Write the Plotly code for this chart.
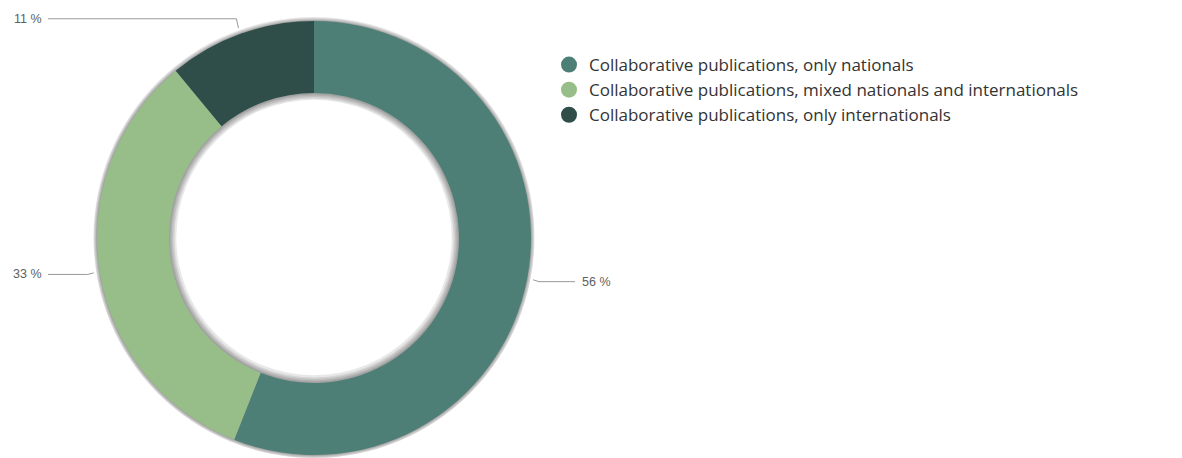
import math
import plotly.graph_objects as go

# ---- data ----
categories = [
    "Collaborative publications, only nationals",
    "Collaborative publications, mixed nationals and internationals",
    "Collaborative publications, only internationals",
]
values = [56, 33, 11]
label_texts = ["56 %", "33 %", "11 %"]
colors = ["#4e7f77", "#97be88", "#2f4e49"]

# ---- geometry (pixels) ----
W, H = 1182, 458
cx, cy, R = 314, 238, 217
R_in = 145
hole = R_in / R


def dom(rad):
    y0 = max(0.0, 1 - (cy + rad) / H)
    y1 = min(1.0, 1 - (cy - rad) / H)
    return dict(x=[(cx - rad) / W, (cx + rad) / W], y=[y0, y1])


fig = go.Figure()

# soft shadow rings behind the donut (outer spread, inner spread)
for do, di in [(4, 7), (3, 5.5), (2, 4), (1, 2.5), (0.5, 1.2)]:
    fig.add_trace(go.Pie(
        values=[1], labels=["s"], hole=(R_in - di) / (R + do), domain=dom(R + do),
        marker=dict(colors=["rgba(30,30,30,0.10)"], line=dict(width=0)),
        textinfo="none", hoverinfo="skip", showlegend=False, sort=False,
    ))

fig.add_trace(go.Pie(
    labels=categories, values=values, hole=hole, domain=dom(R),
    sort=False, direction="clockwise", rotation=0,
    marker=dict(colors=colors, line=dict(width=0)),
    textinfo="none", showlegend=False,
))

# legend entries (circles)
for name, c in zip(categories, colors):
    fig.add_trace(go.Scatter(
        x=[None], y=[None], mode="markers", name=name,
        marker=dict(size=16, color=c, symbol="circle"),
    ))

# outside labels with connectors, derived from slice mid-angles
total = sum(values)
cum = 0
shapes, annots = [], []
for v, t in zip(values, label_texts):
    mid = (cum + v / 2) / total * 2 * math.pi
    cum += v
    s, c = math.sin(mid), math.cos(mid)
    ex, ey = cx + (R + 6) * s, cy - (R + 6) * c
    ly = cy - (R + 16) * c
    bx = cx + (R + 12) * s
    if s < 0:
        lx_end, tx, anchor = 48, 44, "right"
    else:
        lx_end, tx, anchor = 575, 580, "left"
    shapes.append(dict(type="path", xref="x", yref="y",
                       path=f"M{ex},{ey} L{bx},{ly} L{lx_end},{ly}",
                       line=dict(color="#9a9a9a", width=1)))
    annots.append(dict(x=tx, y=ly, xref="x", yref="y", text=t, showarrow=False,
                       xanchor=anchor, yanchor="middle",
                       font=dict(family="Liberation Sans", size=12.5, color="#606060")))

fig.update_layout(
    width=W, height=H,
    margin=dict(l=0, r=0, t=0, b=0),
    paper_bgcolor="white", plot_bgcolor="rgba(0,0,0,0)",
    xaxis=dict(range=[0, W], visible=False, fixedrange=True),
    yaxis=dict(range=[H, 0], visible=False, fixedrange=True),
    shapes=shapes, annotations=annots,
    showlegend=True,
    legend=dict(x=549 / W, y=1 - 47 / H, xanchor="left", yanchor="top",
                font=dict(family="Open Sans", size=17, color="#333333"),
                bgcolor="rgba(0,0,0,0)", itemclick=False),
)

fig.write_html("out.html", config={"displayModeBar": False},
               post_script="document.body.style.margin='0';document.body.style.overflow='hidden';")
